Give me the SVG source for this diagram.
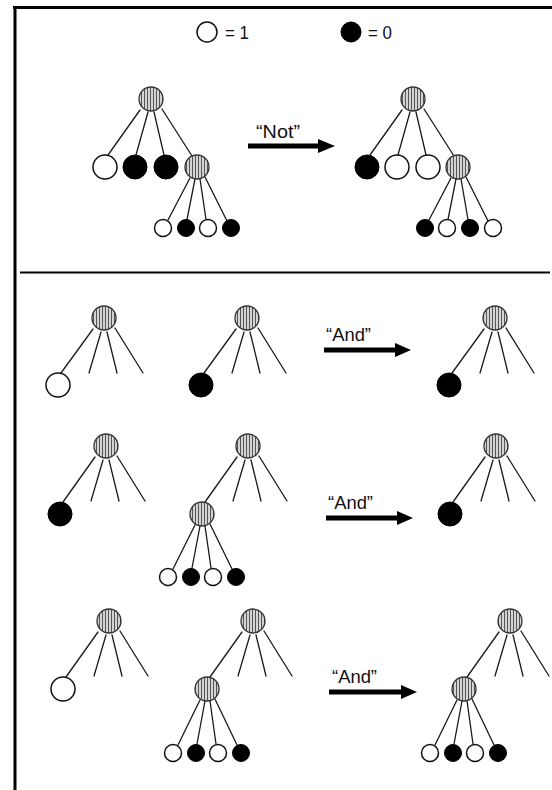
<svg xmlns="http://www.w3.org/2000/svg" width="552" height="790" viewBox="0 0 552 790">
<style>
.ln{stroke:#1a1a1a;stroke-width:1.3;fill:none;stroke-linecap:round}
.op{fill:#fff;stroke:#111;stroke-width:1.5}
.fl{fill:#000;stroke:#000;stroke-width:1}
.ht{fill:url(#stripes);stroke:#333;stroke-width:1.3}
.frame{stroke:#000;fill:none}
.lbl{font-family:"Liberation Sans",Arial,sans-serif;font-size:19px;fill:#111}
.arw{fill:#000}
</style>
<defs>
<pattern id="stripes" width="3" height="4" patternUnits="userSpaceOnUse">
<rect width="3" height="4" fill="#d4d4d4"/>
<rect width="1" height="4" fill="#555"/>
</pattern>
</defs>
<rect width="552" height="790" fill="#fff"/>
<g id="frame">
<line class="frame" x1="13" y1="7.5" x2="552" y2="7.5" stroke-width="3"/>
<line class="frame" x1="15" y1="6" x2="15" y2="790" stroke-width="3"/>
<line class="frame" x1="20" y1="272.5" x2="550" y2="272.5" stroke-width="2"/>
</g>
<g id="legend">
<circle class="op" cx="207" cy="32" r="10"/>
<text class="lbl" x="225" y="39" textLength="24" lengthAdjust="spacingAndGlyphs">= 1</text>
<circle class="fl" cx="351" cy="32" r="10"/>
<text class="lbl" x="368" y="39" textLength="24" lengthAdjust="spacingAndGlyphs">= 0</text>
</g>
<g id="connectors">
<path class="ln" d="M140,110 L108,155 M148,112 L136,155 M154,112 L164,155 M162,109 L192,156"/>
<path class="ln" d="M190,178 L168,220 M195,179 L187,219.5 M200,179 L206,219.5 M205,177 L227,221"/>
<path class="ln" d="M402,110 L370,155 M410,112 L398,155 M416,112 L426,155 M424,109 L454,156"/>
<path class="ln" d="M451,178 L429,220 M456,179 L448,219.5 M461,179 L468,219.5 M466,177 L488,221"/>
<path class="ln" d="M93,329 L61,373 M101,332 L89,373 M107,332 L117,373 M115,328 L143,373"/>
<path class="ln" d="M236,329 L204,373 M244,332 L232,373 M250,332 L260,373 M258,328 L286,373"/>
<path class="ln" d="M484,329 L452,373 M492,332 L480,373 M498,332 L508,373 M506,328 L534,373"/>
<path class="ln" d="M95,457 L63,502 M103,460 L91,501 M109,460 L119,501 M117,456 L145,501"/>
<path class="ln" d="M237,457 L205,502 M245,460 L233,501 M251,460 L261,501 M259,456 L287,501"/>
<path class="ln" d="M195,525 L173,569 M200,526 L192,568 M205,526 L211,568 M210,524 L232,569"/>
<path class="ln" d="M485,457 L453,502 M493,460 L481,501 M499,460 L509,501 M507,456 L535,501"/>
<path class="ln" d="M98,632 L66,677 M106,635 L94,676 M112,635 L122,676 M120,631 L148,676"/>
<path class="ln" d="M242,632 L210,677 M250,635 L238,676 M256,635 L266,676 M264,631 L292,676"/>
<path class="ln" d="M200,700 L178,745 M205,701 L197,744 M210,701 L216,744 M215,699 L237,745"/>
<path class="ln" d="M499,632 L467,677 M507,635 L495,676 M513,635 L523,676 M521,631 L549,676"/>
<path class="ln" d="M457,700 L435,745 M462,701 L454,744 M467,701 L473,744 M472,699 L494,745"/>
</g>
<g id="arrows">
<g id="arrow-not"><rect class="arw" x="248" y="143.5" width="72" height="5"/><polygon class="arw" points="318,139 335,146 318,153"/><text class="lbl" x="256" y="138" textLength="44" lengthAdjust="spacingAndGlyphs">“Not”</text></g>
<g id="arrow-and1"><rect class="arw" x="324" y="347.5" width="73" height="5"/><polygon class="arw" points="395,343 411,350 395,357"/><text class="lbl" x="326" y="341" textLength="45" lengthAdjust="spacingAndGlyphs">“And”</text></g>
<g id="arrow-and2"><rect class="arw" x="326" y="515.5" width="73" height="5"/><polygon class="arw" points="397,511 413,518 397,525"/><text class="lbl" x="328" y="509" textLength="45" lengthAdjust="spacingAndGlyphs">“And”</text></g>
<g id="arrow-and3"><rect class="arw" x="329" y="689.5" width="74" height="5"/><polygon class="arw" points="401,685 417,692 401,699"/><text class="lbl" x="332" y="683" textLength="45" lengthAdjust="spacingAndGlyphs">“And”</text></g>
</g>
<g id="tl-root"><circle class="ht" cx="151" cy="99" r="12"/></g>
<g id="tl-c1"><circle class="op" cx="105" cy="167" r="12"/></g>
<g id="tl-c2"><circle class="fl" cx="135" cy="167" r="12"/></g>
<g id="tl-c3"><circle class="fl" cx="166" cy="167" r="12"/></g>
<g id="tl-c4"><circle class="ht" cx="197" cy="167" r="12"/></g>
<g id="tl-s1"><circle class="op" cx="163" cy="228" r="8.5"/></g>
<g id="tl-s2"><circle class="fl" cx="186" cy="228" r="8.5"/></g>
<g id="tl-s3"><circle class="op" cx="208" cy="228" r="8.5"/></g>
<g id="tl-s4"><circle class="fl" cx="231" cy="228" r="8.5"/></g>
<g id="tr-root"><circle class="ht" cx="413" cy="99" r="12"/></g>
<g id="tr-c1"><circle class="fl" cx="367" cy="167" r="12"/></g>
<g id="tr-c2"><circle class="op" cx="397" cy="167" r="12"/></g>
<g id="tr-c3"><circle class="op" cx="428" cy="167" r="12"/></g>
<g id="tr-c4"><circle class="ht" cx="458" cy="167" r="12"/></g>
<g id="tr-s1"><circle class="fl" cx="425" cy="228" r="8.5"/></g>
<g id="tr-s2"><circle class="op" cx="447" cy="228" r="8.5"/></g>
<g id="tr-s3"><circle class="fl" cx="470" cy="228" r="8.5"/></g>
<g id="tr-s4"><circle class="op" cx="493" cy="228" r="8.5"/></g>
<g id="r1a-root"><circle class="ht" cx="104" cy="318" r="12"/></g>
<g id="r1a-leaf"><circle class="op" cx="58" cy="385" r="12"/></g>
<g id="r1b-root"><circle class="ht" cx="247" cy="318" r="12"/></g>
<g id="r1b-leaf"><circle class="fl" cx="201" cy="385" r="12"/></g>
<g id="r1c-root"><circle class="ht" cx="495" cy="318" r="12"/></g>
<g id="r1c-leaf"><circle class="fl" cx="449" cy="385" r="12"/></g>
<g id="r2a-root"><circle class="ht" cx="106" cy="446" r="12"/></g>
<g id="r2a-leaf"><circle class="fl" cx="60" cy="514" r="12"/></g>
<g id="r2b-root"><circle class="ht" cx="248" cy="446" r="12"/></g>
<g id="r2b-sub"><circle class="ht" cx="202" cy="514" r="12"/></g>
<g id="r2b-s1"><circle class="op" cx="168" cy="577" r="8.5"/></g>
<g id="r2b-s2"><circle class="fl" cx="191" cy="577" r="8.5"/></g>
<g id="r2b-s3"><circle class="op" cx="213" cy="577" r="8.5"/></g>
<g id="r2b-s4"><circle class="fl" cx="236" cy="577" r="8.5"/></g>
<g id="r2c-root"><circle class="ht" cx="496" cy="446" r="12"/></g>
<g id="r2c-leaf"><circle class="fl" cx="450" cy="514" r="12"/></g>
<g id="r3a-root"><circle class="ht" cx="109" cy="621" r="12"/></g>
<g id="r3a-leaf"><circle class="op" cx="63" cy="689" r="12"/></g>
<g id="r3b-root"><circle class="ht" cx="253" cy="621" r="12"/></g>
<g id="r3b-sub"><circle class="ht" cx="207" cy="689" r="12"/></g>
<g id="r3b-s1"><circle class="op" cx="173" cy="753" r="8.5"/></g>
<g id="r3b-s2"><circle class="fl" cx="196" cy="753" r="8.5"/></g>
<g id="r3b-s3"><circle class="op" cx="218" cy="753" r="8.5"/></g>
<g id="r3b-s4"><circle class="fl" cx="241" cy="753" r="8.5"/></g>
<g id="r3c-root"><circle class="ht" cx="510" cy="621" r="12"/></g>
<g id="r3c-sub"><circle class="ht" cx="464" cy="689" r="12"/></g>
<g id="r3c-s1"><circle class="op" cx="430" cy="753" r="8.5"/></g>
<g id="r3c-s2"><circle class="fl" cx="453" cy="753" r="8.5"/></g>
<g id="r3c-s3"><circle class="op" cx="475" cy="753" r="8.5"/></g>
<g id="r3c-s4"><circle class="fl" cx="498" cy="753" r="8.5"/></g>
</svg>
